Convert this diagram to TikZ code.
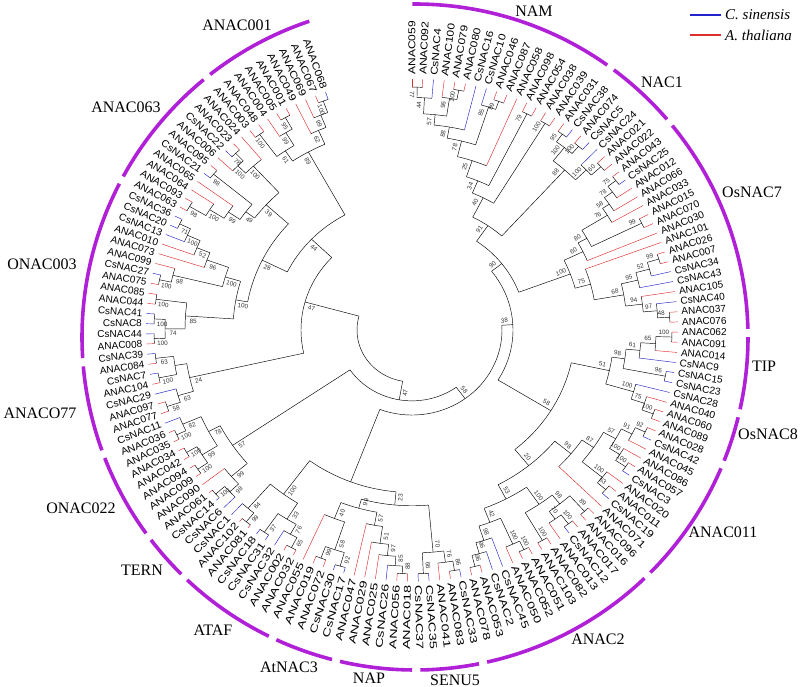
\documentclass[tikz,border=0pt]{standalone}
\usepackage{fontspec}
\setmainfont{Liberation Serif}
\setsansfont{Liberation Sans}
\usetikzlibrary{positioning}

\definecolor{cladepurple}{RGB}{176,32,214}
\definecolor{ta}{RGB}{222,45,45}
\definecolor{tc}{RGB}{35,35,205}

\tikzset{
  branch/.style={line width=0.45pt},
  leaflabel/.style={font=\sffamily\fontsize{10}{10}\selectfont, inner sep=0pt},
  bootlabel/.style={font=\sffamily\fontsize{6.3}{6.3}\selectfont, inner sep=0pt, text=black!80},
  cladearc/.style={cladepurple, line width=3.6pt},
  cladename/.style={font=\fontsize{16}{16}\selectfont, inner sep=0pt},
  legendtext/.style={font=\itshape\fontsize{15}{15}\selectfont, anchor=west, inner sep=0pt},
}

% text turned along the radius (tree is drawn slightly flattened)
\newcommand\radrot[1]{%
  \pgfmathsetmacro\rotv{atan2(0.945*sin(#1),cos(#1))}%
  \pgfmathtruncatemacro\flip{abs(\rotv)>90 ? 1 : 0}%
  \ifnum\flip=1 \pgfmathsetmacro\rotv{\rotv+180}\fi
}

% join two children at radius #4, bootstrap #5
\newcommand\nd[5]{%
  \edef\angA{\csname ang@#2\endcsname}%
  \edef\angB{\csname ang@#3\endcsname}%
  \edef\radA{\csname rad@#2\endcsname}%
  \edef\radB{\csname rad@#3\endcsname}%
  \edef\colA{\csname col@#2\endcsname}%
  \edef\colB{\csname col@#3\endcsname}%
  \pgfmathsetmacro\angM{(\angA+\angB)/2}%
  \draw[branch] (\angA:#4) arc[start angle=\angA, end angle=\angB, radius=#4];
  \draw[branch, draw=\colA] (\angA:#4) -- (\angA:\radA);
  \draw[branch, draw=\colB] (\angB:#4) -- (\angB:\radB);
  \if\relax\detokenize{#5}\relax\else
    \pgfmathsetmacro\angL{\angM+300/#4}%
    \pgfmathsetmacro\radL{#4-8}%
    \radrot{\angL}%
    \node[bootlabel, rotate=\rotv] (bs-#1) at (\angL:\radL) {#5};%
  \fi
  \expandafter\xdef\csname ang@#1\endcsname{\angM}%
  \expandafter\xdef\csname rad@#1\endcsname{#4}%
  \expandafter\xdef\csname col@#1\endcsname{black}%
}

\begin{document}
\begin{tikzpicture}[x=1pt,y=1pt]
\useasboundingbox (-412,-357) rectangle (388,330);

\begin{scope}[x=1pt,y=0.945pt]
  % leaves
  \foreach \nm/\cl [count=\i] in {
    ANAC059/ta, ANAC092/ta, CsNAC4/tc, ANAC100/ta, ANAC079/ta, ANAC080/ta, CsNAC16/tc, CsNAC10/tc, ANAC046/ta, ANAC087/ta,
    ANAC058/ta, ANAC098/ta, ANAC054/ta, ANAC038/ta, ANAC039/ta, ANAC031/ta, CsNAC38/tc, ANAC074/ta, CsNAC5/tc, CsNAC24/tc,
    ANAC021/ta, ANAC022/ta, ANAC043/ta, CsNAC25/tc, ANAC012/ta, ANAC066/ta, ANAC033/ta, ANAC015/ta, ANAC070/ta, ANAC030/ta,
    ANAC101/ta, ANAC026/ta, ANAC007/ta, CsNAC34/tc, CsNAC43/tc, ANAC105/ta, CsNAC40/tc, ANAC037/ta, ANAC076/ta, ANAC062/ta,
    ANAC091/ta, ANAC014/ta, CsNAC9/tc, CsNAC15/tc, CsNAC23/tc, CsNAC28/tc, ANAC040/ta, ANAC060/ta, ANAC089/ta, ANAC028/ta,
    CsNAC42/tc, ANAC045/ta, ANAC086/ta, ANAC057/ta, CsNAC3/tc, ANAC020/ta, ANAC011/ta, CsNAC19/tc, ANAC071/ta, ANAC096/ta,
    ANAC016/ta, ANAC017/ta, CsNAC12/tc, ANAC013/ta, ANAC082/ta, ANAC103/ta, ANAC051/ta, ANAC052/ta, ANAC050/ta, CsNAC45/tc,
    CsNAC2/tc, ANAC053/ta, ANAC078/ta, CsNAC33/tc, ANAC083/ta, ANAC041/ta, CsNAC35/tc, CsNAC37/tc, ANAC018/ta, ANAC056/ta,
    CsNAC26/tc, ANAC025/ta, ANAC029/ta, ANAC047/ta, CsNAC17/tc, CsNAC30/tc, ANAC072/ta, ANAC019/ta, ANAC055/ta, ANAC032/ta,
    ANAC002/ta, CsNAC32/tc, CsNAC31/tc, CsNAC18/tc, ANAC081/ta, ANAC102/ta, CsNAC1/tc, CsNAC6/tc, CsNAC14/tc, ANAC061/ta,
    ANAC090/ta, ANAC009/ta, ANAC094/ta, ANAC042/ta, ANAC034/ta, ANAC035/ta, ANAC036/ta, CsNAC11/tc, ANAC077/ta, ANAC097/ta,
    CsNAC29/tc, ANAC104/ta, CsNAC7/tc, ANAC084/ta, CsNAC39/tc, ANAC008/ta, CsNAC44/tc, CsNAC8/tc, CsNAC41/tc, ANAC044/ta,
    ANAC085/ta, ANAC075/ta, CsNAC27/tc, ANAC099/ta, ANAC073/ta, ANAC010/ta, CsNAC13/tc, CsNAC20/tc, CsNAC36/tc, ANAC063/ta,
    ANAC093/ta, ANAC064/ta, ANAC065/ta, CsNAC21/tc, ANAC095/ta, ANAC006/ta, CsNAC22/tc, ANAC023/ta, ANAC024/ta, ANAC003/ta,
    ANAC048/ta, ANAC004/ta, ANAC005/ta, ANAC001/ta, ANAC049/ta, ANAC069/ta, ANAC067/ta, ANAC068/tc}{
    \pgfmathsetmacro\la{90-(\i-1)*2.32}
    \expandafter\xdef\csname ang@\i\endcsname{\la}
    \expandafter\xdef\csname rad@\i\endcsname{266}
    \expandafter\xdef\csname col@\i\endcsname{\cl}
    \radrot{\la}
    \pgfmathsetmacro\sv{sin(\la)}
    \pgfmathsetmacro\ls{1+(\sv>0 ? 0.2 : 0.45)*\sv*\sv}
    \ifnum\flip=1
      \node[leaflabel, anchor=east, rotate=\rotv, xscale=\ls] (leaf\i) at (\la:270) {\nm};
    \else
      \node[leaflabel, anchor=west, rotate=\rotv, xscale=\ls] (leaf\i) at (\la:270) {\nm};
    \fi
  }

  % NAM, NAC1, OsNAC7
  \nd{a1}{1}{2}{257}{77}
  \nd{a2}{a1}{3}{246}{44}
  \nd{a3}{5}{6}{258}{100}
  \nd{a4}{4}{a3}{248}{96}
  \nd{a5}{a2}{a4}{229}{57}
  \nd{a6}{a5}{7}{218}{88}
  \nd{a7}{9}{10}{257}{89}
  \nd{a8}{8}{a7}{248}{85}
  \nd{a9}{a6}{a8}{206}{78}
  \nd{a10}{a9}{11}{189}{25}
  \nd{a11}{12}{13}{256}{79}
  \nd{a12}{a10}{a11}{171}{34}
  \nd{a13}{14}{15}{256}{100}
  \nd{a14}{a12}{a13}{157}{40}
  \nd{b1}{16}{17}{256}{95}
  \nd{b2}{18}{19}{256}{100}
  \nd{b3}{b1}{b2}{246}{100}
  \nd{b4}{21}{22}{256}{60}
  \nd{b5}{20}{b4}{243}{100}
  \nd{b6}{b3}{b5}{228}{88}
  \nd{b7}{a14}{b6}{134}{91}
  \nd{c1}{23}{24}{258}{75}
  \nd{c2}{c1}{25}{248}{78}
  \nd{c3}{c2}{26}{238}{58}
  \nd{c4}{c3}{27}{230}{76}
  \nd{c5}{28}{29}{256}{99}
  \nd{c6}{c4}{c5}{200}{80}
  \nd{c7}{c6}{30}{190}{60}
  \nd{c9}{32}{33}{258}{99}
  \nd{c10}{c9}{34}{246}{52}
  \nd{c11}{c10}{35}{232}{95}
  \nd{c12}{38}{39}{258}{48}
  \nd{c13}{37}{c12}{246}{97}
  \nd{c14}{36}{c13}{232}{94}
  \nd{c15}{c11}{c14}{215}{68}
  \nd{c16}{31}{c15}{185}{75}
  \nd{c17}{c7}{c16}{169}{100}
  \nd{r1}{b7}{c17}{114}{90}
  % TIP, OsNAC8, ANAC011, ANAC2
  \nd{t1}{40}{41}{260}{100}
  \nd{t2}{t1}{42}{244}{65}
  \nd{t3}{t2}{43}{229}{61}
  \nd{t4}{44}{45}{258}{96}
  \nd{t5}{t3}{t4}{215}{98}
  \nd{d1}{48}{49}{257}{100}
  \nd{d2}{47}{d1}{245}{75}
  \nd{d3}{46}{d2}{231}{100}
  \nd{t6}{t5}{d3}{202}{51}
  \nd{e1}{50}{51}{257}{92}
  \nd{e2}{e1}{52}{246}{91}
  \nd{e4}{54}{55}{258}{100}
  \nd{e5}{53}{e4}{246}{100}
  \nd{e6}{e2}{e5}{234}{57}
  \nd{e7}{57}{58}{257}{63}
  \nd{e8}{56}{e7}{246}{100}
  \nd{e9}{e6}{e8}{220}{87}
  \nd{e10}{e9}{59}{206}{98}
  \nd{f1}{60}{61}{258}{89}
  \nd{f2}{62}{63}{258}{100}
  \nd{f3}{f2}{64}{246}{70}
  \nd{f4}{f1}{f3}{236}{98}
  \nd{f5}{65}{66}{258}{100}
  \nd{f6}{f4}{f5}{224}{100}
  \nd{f7}{67}{68}{258}{100}
  \nd{f8}{f7}{69}{248}{100}
  \nd{f9}{72}{73}{258}{96}
  \nd{f10}{71}{f9}{246}{96}
  \nd{f11}{70}{f10}{234}{98}
  \nd{f12}{f8}{f11}{218}{42}
  \nd{f13}{f6}{f12}{202}{53}
  \nd{q1}{e10}{f13}{185}{20}
  \nd{q2}{t6}{q1}{163}{58}
  \nd{r2}{r1}{q2}{101}{38}
  % SENU5, NAP, AtNAC3, ATAF, TERN, ONAC022
  \nd{g1}{74}{75}{258}{86}
  \nd{g2}{g1}{76}{248}{76}
  \nd{g4}{77}{78}{258}{66}
  \nd{g3}{g2}{g4}{236}{70}
  \nd{h1}{79}{80}{258}{88}
  \nd{h2}{h1}{81}{250}{85}
  \nd{h3}{h2}{82}{240}{97}
  \nd{h4}{h3}{83}{228}{51}
  \nd{h5}{h4}{84}{210}{57}
  \nd{i1}{85}{86}{260}{92}
  \nd{i2}{87}{88}{258}{99}
  \nd{i3}{i1}{i2}{245}{58}
  \nd{i4}{i3}{89}{214}{40}
  \nd{i5}{h5}{i4}{196}{99}
  \nd{i6}{g3}{i5}{186}{23}
  \nd{j1}{90}{91}{260}{65}
  \nd{j2}{j1}{92}{248}{76}
  \nd{j3}{93}{94}{260}{37}
  \nd{j4}{j2}{j3}{236}{33}
  \nd{j5}{95}{96}{262}{99}
  \nd{j6}{j5}{97}{250}{84}
  \nd{j7}{j4}{j6}{216}{100}
  \nd{y1}{i6}{j7}{172}{}
  \nd{k1}{99}{100}{262}{100}
  \nd{k2}{98}{k1}{250}{98}
  \nd{k3}{k2}{101}{238}{99}
  \nd{l1}{102}{103}{260}{100}
  \nd{l2}{104}{105}{260}{100}
  \nd{l3}{l1}{l2}{248}{99}
  \nd{l4}{106}{107}{260}{100}
  \nd{l5}{l4}{108}{250}{82}
  \nd{l6}{l3}{l5}{230}{78}
  \nd{l8}{k3}{l6}{217}{57}
  \nd{n58}{r2}{y1}{90}{58}
  \nd{n47}{n58}{l8}{75}{47}
  % ANACO77, ONAC003, ANAC063, ANAC001
  \nd{m1}{109}{110}{258}{58}
  \nd{m2}{111}{m1}{244}{63}
  \nd{m3}{112}{113}{258}{100}
  \nd{m4}{114}{115}{258}{63}
  \nd{m5}{m3}{m4}{240}{}
  \nd{m6}{m2}{m5}{228}{24}
  \nd{o1}{116}{117}{258}{100}
  \nd{o2}{118}{119}{258}{100}
  \nd{o3}{o1}{o2}{247}{74}
  \nd{o4}{120}{121}{258}{100}
  \nd{o5}{o3}{o4}{227}{85}
  \nd{o6}{122}{123}{258}{100}
  \nd{o7}{o6}{124}{246}{98}
  \nd{o9}{128}{129}{258}{71}
  \nd{o10}{127}{o9}{246}{100}
  \nd{o11}{126}{o10}{232}{52}
  \nd{o12}{125}{o11}{218}{96}
  \nd{o13}{o7}{o12}{195}{100}
  \nd{o14}{o5}{o13}{179}{100}
  \nd{p1}{130}{131}{258}{98}
  \nd{p2}{p1}{132}{239}{100}
  \nd{p3}{p2}{133}{222}{99}
  \nd{p4}{134}{135}{258}{98}
  \nd{p5}{p3}{p4}{208}{49}
  \nd{p6}{137}{138}{257}{78}
  \nd{p7}{136}{p6}{246}{100}
  \nd{p8}{p7}{139}{235}{100}
  \nd{p9}{p5}{p8}{197}{39}
  \nd{u1}{147}{148}{258}{100}
  \nd{u2}{146}{u1}{245}{99}
  \nd{u3}{145}{u2}{231}{62}
  \nd{u4}{143}{144}{258}{95}
  \nd{u5}{142}{u4}{244}{99}
  \nd{u6}{140}{141}{257}{100}
  \nd{u7}{u6}{u5}{228}{61}
  \nd{u8}{u7}{u3}{215}{89}
  \nd{x28}{o14}{p9}{167}{28}
  \nd{x44}{x28}{u8}{139}{44}
  \nd{w3}{m6}{x44}{111}{47}
  \nd{root}{n47}{w3}{55}{}
\end{scope}

% subfamily arcs
\foreach \cn/\ia/\ib in {NAM/1/16, NAC1/17/22, OsNAC7/23/39, TIP/40/45, OsNAC8/46/49,
    ANAC011/50/59, ANAC2/60/73, SENU5/74/78, NAP/79/84, AtNAC3/85/89, ATAF/90/97,
    TERN/98/101, ONAC022/102/108, ANACO77/109/115, ONAC003/116/129, ANAC063/130/139, ANAC001/140/148}{
  \pgfmathsetmacro\sa{90-(\ia-1)*2.32+0.45}
  \pgfmathsetmacro\ea{90-(\ib-1)*2.32-0.45}
  \draw[cladearc] (3,-7) ++(\sa:333) arc[start angle=\sa, end angle=\ea, radius=333];
}

\node[cladename] (cl-NAM) at (122,319) {NAM};
\node[cladename] (cl-NAC1) at (250,248) {NAC1};
\node[cladename] (cl-OsNAC7) at (340,138) {OsNAC7};
\node[cladename] (cl-TIP) at (352,-36) {TIP};
\node[cladename] (cl-OsNAC8) at (356,-104) {OsNAC8};
\node[cladename] (cl-ANAC011) at (311,-202) {ANAC011};
\node[cladename] (cl-ANAC2) at (186,-309) {ANAC2};
\node[cladename] (cl-SENU5) at (43,-350) {SENU5};
\node[cladename] (cl-NAP) at (-43,-348) {NAP};
\node[cladename] (cl-AtNAC3) at (-123,-337) {AtNAC3};
\node[cladename] (cl-ATAF) at (-199,-300) {ATAF};
\node[cladename] (cl-TERN) at (-270,-240) {TERN};
\node[cladename] (cl-ONAC022) at (-331,-178) {ONAC022};
\node[cladename] (cl-ANACO77) at (-372,-83) {ANACO77};
\node[cladename] (cl-ONAC003) at (-370,66) {ONAC003};
\node[cladename] (cl-ANAC063) at (-286,223) {ANAC063};
\node[cladename] (cl-ANAC001) at (-175,305) {ANAC001};

% legend
\node[legendtext] (lg-cs) at (313,315) {C. sinensis};
\node[legendtext] (lg-at) at (313,295) {A. thaliana};
\draw[tc, line width=1.6pt] ([xshift=-4pt]lg-cs.west) -- ++(-31,0);
\draw[ta, line width=1.6pt] ([xshift=-4pt]lg-at.west) -- ++(-31,0);
\end{tikzpicture}
\end{document}
